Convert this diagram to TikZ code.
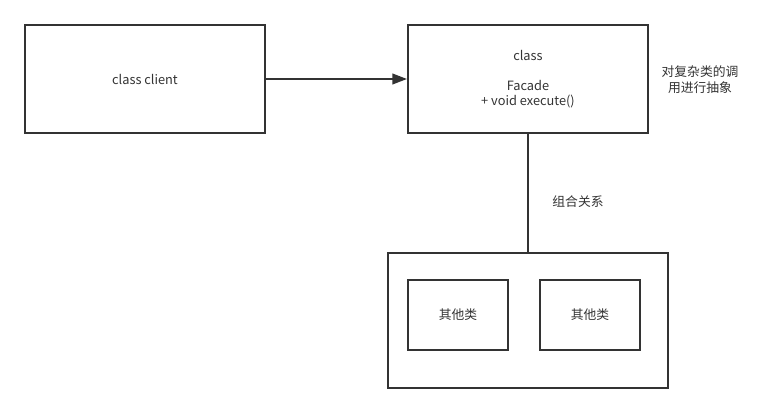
\documentclass[tikz,border=0pt]{standalone}
\usepackage{fontspec}
\setmainfont{Noto Sans CJK SC}
\usetikzlibrary{arrows.meta}
\definecolor{linegray}{HTML}{333333}
\definecolor{textgray}{HTML}{333333}

\begin{document}
\begin{tikzpicture}[x=0.75pt, y=-0.75pt,
    classbox/.style={rectangle, draw=linegray, line width=1.5pt, text=textgray,
        font=\fontsize{9.6}{11.25}\selectfont, align=center, inner sep=0pt},
    note/.style={text=textgray, font=\fontsize{9.6}{12}\selectfont, align=center}]
    \useasboundingbox (0,0) rectangle (770,413);

    % Client and facade
    \node[classbox, minimum width=180pt, minimum height=81pt] (client) at (145,79) {class client};
    \node[classbox, minimum width=180pt, minimum height=81pt] (facade) at (528,79)
        {class\\ \\Facade\\+ void execute()};
    \node[note] (abstract) at (700,80) {对复杂类的调\\用进行抽象};

    \draw[-{Triangle[length=11pt, width=8pt]}, line width=1.5pt, draw=linegray, fill=linegray] (client) -- (facade);

    % Subsystem
    \node[classbox, minimum width=210pt, minimum height=101.25pt] (subsys) at (528,320) {};
    \node[classbox, minimum width=75pt, minimum height=52.5pt] (other1) at (458,315) {其他类};
    \node[classbox, minimum width=75pt, minimum height=52.5pt] (other2) at (590,315) {其他类};

    \draw[line width=1.5pt, draw=linegray] (facade) -- (subsys);
    \node[note] (compose) at (578,202) {组合关系};
\end{tikzpicture}
\end{document}
